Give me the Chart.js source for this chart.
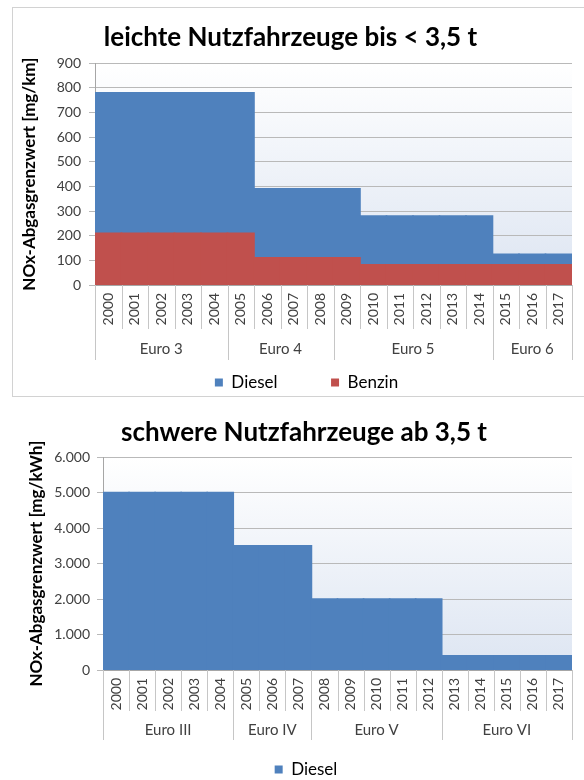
<!DOCTYPE html>
<html>
<head>
<meta charset="utf-8">
<script src="https://cdn.jsdelivr.net/npm/chart.js@4"></script>
<style>
  html, body { margin: 0; padding: 0; background: #fff; overflow: hidden; width: 584px; height: 780px; }
  #frame1 { position: absolute; left: 12px; top: 7px; width: 600px; height: 388px; border: 1px solid #d2d2d2; }
  #box1 { position: absolute; left: 13px; top: 8px; width: 571px; height: 393px; }
  #box2 { position: absolute; left: 12px; top: 400px; width: 588px; height: 388px; }
</style>
</head>
<body>
<div id="frame1"></div>
<div id="box1"><canvas id="chart_light"></canvas></div>
<div id="box2"><canvas id="chart_heavy"></canvas></div>
<script>
// leichte Nutzfahrzeuge
const years_light = ["2000","2001","2002","2003","2004","2005","2006","2007","2008",
                     "2009","2010","2011","2012","2013","2014","2015","2016","2017"];
const diesel_light = [780,780,780,780,780,780,390,390,390,390,280,280,280,280,280,125,125,125];
const benzin_light = [210,210,210,210,210,210,110,110,110,110,82,82,82,82,82,82,82,82];
const groups_light = ["Euro 3", "Euro 4", "Euro 5", "Euro 6"];
const groupSizes_light = [5, 4, 6, 3];

// schwere Nutzfahrzeuge
const years_heavy = ["2000","2001","2002","2003","2004","2005","2006","2007","2008",
                     "2009","2010","2011","2012","2013","2014","2015","2016","2017"];
const diesel_heavy = [5000,5000,5000,5000,5000,3500,3500,3500,2000,2000,2000,2000,2000,400,400,400,400,400];
const groups_heavy = ["Euro III", "Euro IV", "Euro V", "Euro VI"];
const groupSizes_heavy = [5, 3, 5, 5];

const FONT = "Lato, 'Open Sans', sans-serif";
const BLUE = "#4f81bd";
const RED = "#c0504d";

// plot area background (white to light blue)
const plotBg = {
    id: "plotBg",
    beforeDraw(chart) {
        const a = chart.chartArea, ctx = chart.ctx;
        const g = ctx.createLinearGradient(0, a.top, 0, a.bottom);
        g.addColorStop(0, "#ffffff");
        g.addColorStop(1, "#dde5f2");
        ctx.save();
        ctx.fillStyle = g;
        ctx.fillRect(a.left, a.top, a.width, a.height);
        ctx.restore();
    }
};

// second category level (Euro norms) + separators under the x axis
const euroGroups = {
    id: "euroGroups",
    afterDraw(chart, args, opts) {
        const x = chart.scales.x, ctx = chart.ctx, a = chart.chartArea;
        const n = chart.data.labels.length;
        const step = x.getPixelForValue(1) - x.getPixelForValue(0);
        const edge = i => x.getPixelForValue(i) - step / 2;
        const bounds = [0];
        opts.sizes.forEach(s => bounds.push(bounds[bounds.length - 1] + s));
        ctx.save();
        ctx.strokeStyle = "#c6c6c6";
        ctx.lineWidth = 1;
        ctx.beginPath();
        for (let i = 0; i <= n; i++) {
            const px = Math.round(edge(i)) + 0.5;
            const depth = bounds.includes(i) ? opts.groupDepth : opts.yearDepth;
            ctx.moveTo(px, a.bottom);
            ctx.lineTo(px, a.bottom + depth);
        }
        ctx.stroke();
        ctx.fillStyle = "#404040";
        ctx.font = "15px " + FONT;
        ctx.textAlign = "center";
        ctx.textBaseline = "middle";
        opts.names.forEach((name, k) => {
            const cx = (edge(bounds[k]) + edge(bounds[k + 1])) / 2;
            ctx.fillText(name, cx, a.bottom + opts.labelY);
        });
        ctx.restore();
    }
};

// title / legend are centred on a slightly different box than the plot in the original
const boxShift = {
    id: "boxShift",
    afterLayout(chart, args, opts) {
        chart.titleBlock.left += opts.title;
        chart.titleBlock.right += opts.title;
        chart.legend.left += opts.legend;
        chart.legend.right += opts.legend;
    }
};

function legendLabels(chart) {
    const items = Chart.defaults.plugins.legend.labels.generateLabels(chart);
    items.sort((a, b) => a.datasetIndex - b.datasetIndex);
    items.forEach((it, i) => { if (i < items.length - 1) it.text += "          "; });
    return items;
}

function germanNumber(v) {
    return String(v).replace(/\B(?=(\d{3})+(?!\d))/g, ".");
}

function makeOptions(cfg) {
    return {
        responsive: true,
        maintainAspectRatio: false,
        animation: false,
        layout: { padding: { left: 0, right: cfg.padRight, top: 0, bottom: 0 } },
        plugins: {
            title: {
                display: true,
                text: cfg.title,
                color: "#000",
                font: { family: FONT, size: 26, weight: "bold" },
                padding: { top: cfg.titleTop, bottom: cfg.titleBottom }
            },
            legend: {
                position: "bottom",
                labels: {
                    color: "#000",
                    font: { family: FONT, size: 17 },
                    boxWidth: 8,
                    boxHeight: 8,
                    padding: 10,
                    generateLabels: legendLabels
                }
            },
            tooltip: { enabled: false },
            euroGroups: cfg.groups,
            boxShift: cfg.shift
        },
        scales: {
            x: {
                stacked: true,
                grid: { display: true, drawOnChartArea: false, drawTicks: false, color: "rgba(0,0,0,0)" },
                border: { color: "#a6a6a6" },
                ticks: {
                    color: "#404040",
                    font: { family: FONT, size: 14 },
                    minRotation: 90,
                    maxRotation: 90,
                    autoSkip: false,
                    padding: 8
                },
                afterFit: s => { s.height = cfg.xHeight; }
            },
            y: {
                stacked: false,
                min: 0,
                max: cfg.yMax,
                grid: { color: "#b9b9b9", tickLength: 6 },
                border: { color: "#a6a6a6" },
                ticks: {
                    stepSize: cfg.yStep,
                    color: "#404040",
                    font: { family: FONT, size: 14 },
                    padding: cfg.tickPad,
                    callback: v => germanNumber(v)
                },
                title: {
                    display: true,
                    text: cfg.yTitle,
                    color: "#000",
                    font: { family: FONT, size: 17, weight: "bold" },
                    padding: { top: cfg.yTitleTop, bottom: 0 }
                },
                afterFit: s => { s.width = cfg.yWidth; }
            }
        }
    };
}

const chart_light = new Chart("chart_light", {
    type: "bar",
    data: {
        labels: years_light,
        datasets: [{
            label: "Diesel",
            data: diesel_light,
            backgroundColor: BLUE,
            order: 2,
            barPercentage: 1,
            categoryPercentage: 1,
            inflateAmount: 0.8
        },
        {
            label: "Benzin",
            data: benzin_light,
            backgroundColor: RED,
            order: 1,
            barPercentage: 1,
            categoryPercentage: 1,
            inflateAmount: 0.8
        }]
    },
    options: makeOptions({
        title: "leichte Nutzfahrzeuge bis < 3,5 t",
        titleTop: 14, titleBottom: 10,
        padRight: 12,
        yMax: 900, yStep: 100,
        yTitle: "NOx-Abgasgrenzwert [mg/km]",
        yTitleTop: 6, yWidth: 82, tickPad: 8,
        xHeight: 79,
        groups: { names: groups_light, sizes: groupSizes_light, yearDepth: 44, groupDepth: 75, labelY: 64 },
        shift: { title: -2, legend: 14 }
    }),
    plugins: [plotBg, euroGroups, boxShift]
});

const chart_heavy = new Chart("chart_heavy", {
    type: "bar",
    data: {
        labels: years_heavy,
        datasets: [{
            label: "Diesel",
            data: diesel_heavy,
            backgroundColor: BLUE,
            barPercentage: 1,
            categoryPercentage: 1,
            inflateAmount: 0.8
        }]
    },
    options: makeOptions({
        title: "schwere Nutzfahrzeuge ab 3,5 t",
        titleTop: 17, titleBottom: 9,
        padRight: 28,
        yMax: 6000, yStep: 1000,
        yTitle: "NOx-Abgasgrenzwert [mg/kWh]",
        yTitleTop: 14, yWidth: 91, tickPad: 7,
        xHeight: 81,
        groups: { names: groups_heavy, sizes: groupSizes_heavy, yearDepth: 41, groupDepth: 70, labelY: 60 },
        shift: { title: 12, legend: 14 }
    }),
    plugins: [plotBg, euroGroups, boxShift]
});
</script>
</body>
</html>
